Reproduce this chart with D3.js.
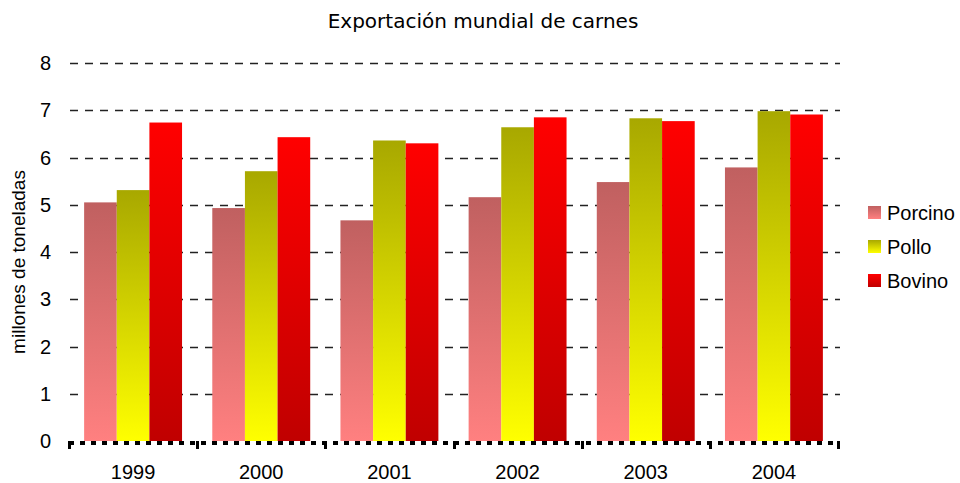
<!DOCTYPE html>
<html>
<head>
<meta charset="utf-8">
<script src="https://cdn.jsdelivr.net/npm/d3@7"></script>
<style>
  body { margin: 0; background: #fff; }
  svg { display: block; font-family: "Liberation Sans", Arial, sans-serif; }
</style>
</head>
<body>
<svg id="chart" width="960" height="483"></svg>
<script>
const years = ['1999', '2000', '2001', '2002', '2003', '2004'];
const seriesNames = ['Porcino', 'Pollo', 'Bovino'];
const porcino = [5.05, 4.93, 4.67, 5.16, 5.48, 5.79];
const pollo = [5.31, 5.71, 6.36, 6.64, 6.83, 6.98];
const bovino = [6.74, 6.43, 6.30, 6.85, 6.77, 6.91];
const yTicks = [0, 1, 2, 3, 4, 5, 6, 7, 8];

// top -> bottom gradient stops
const GRAD = {
  Porcino: ['#c06060', '#ff8080'],
  Pollo: ['#a8a800', '#ffff00'],
  Bovino: ['#ff0000', '#c00000']
};

const values = { Porcino: porcino, Pollo: pollo, Bovino: bovino };

const svg = d3.select('#chart');
const plotLeft = 69, plotRight = 838, plotTop = 63, plotBottom = 441;

const x = d3.scaleBand().domain(years).range([plotLeft, plotRight]).paddingInner(0.236).paddingOuter(0.118);
const xs = d3.scaleBand().domain(seriesNames).range([0, x.bandwidth()]);
const y = d3.scaleLinear().domain([0, 8]).range([plotBottom, plotTop]);

const defs = svg.append('defs');
seriesNames.forEach((s, i) => {
  const g = defs.append('linearGradient').attr('id', 'g' + i).attr('x1', 0).attr('y1', 0).attr('x2', 0).attr('y2', 1);
  g.append('stop').attr('offset', '0%').attr('stop-color', GRAD[s][0]);
  g.append('stop').attr('offset', '100%').attr('stop-color', GRAD[s][1]);
});

// gridlines
svg.append('g').selectAll('line').data(yTicks.filter(d => d > 0)).enter().append('line')
  .attr('x1', plotLeft + 1).attr('x2', plotRight + 2)
  .attr('y1', d => Math.round(y(d)) + 0.5).attr('y2', d => Math.round(y(d)) + 0.5)
  .attr('stroke', '#222').attr('stroke-width', 1.3).attr('stroke-dasharray', '8,7');

// y labels
svg.append('g').selectAll('text').data(yTicks).enter().append('text')
  .attr('x', 51).attr('y', d => y(d)).attr('dy', '0.36em').attr('text-anchor', 'end')
  .attr('font-size', 20).attr('fill', '#000').text(d => d);

// bars
const groups = svg.append('g').selectAll('g').data(years).enter().append('g')
  .attr('transform', d => `translate(${x(d)},0)`);
groups.selectAll('rect').data((yr, yi) => seriesNames.map((s, si) => ({ s, si, v: values[s][yi] })))
  .enter().append('rect')
  .attr('x', d => xs(d.s)).attr('width', xs.bandwidth())
  .attr('y', d => y(d.v)).attr('height', d => y(0) - y(d.v))
  .attr('fill', d => `url(#g${d.si})`);

// bottom axis: thick dashed line with boundary ticks
const axis = svg.append('g');
axis.append('line').attr('x1', plotLeft).attr('x2', plotRight).attr('y1', plotBottom + 2).attr('y2', plotBottom + 2)
  .attr('stroke', '#000').attr('stroke-width', 4).attr('stroke-dasharray', '5,6');
const bounds = years.map(d => x(d) - x.step() * x.paddingInner() / 2).concat([plotRight]);
axis.selectAll('line.tick').data(bounds).enter().append('line').attr('class', 'tick')
  .attr('x1', d => Math.round(d) + 0.5).attr('x2', d => Math.round(d) + 0.5)
  .attr('y1', plotBottom).attr('y2', plotBottom + 8)
  .attr('stroke', '#000').attr('stroke-width', 3);
axis.selectAll('text').data(years).enter().append('text')
  .attr('x', d => x(d) + x.bandwidth() / 2).attr('y', 479).attr('text-anchor', 'middle')
  .attr('font-size', 20).attr('fill', '#000').text(d => d);

// y title
svg.append('text').attr('transform', 'translate(25,262) rotate(-90)').attr('text-anchor', 'middle')
  .attr('font-size', 19).attr('fill', '#000').text('millones de toneladas');

// title
svg.append('text').attr('x', 483).attr('y', 28).attr('text-anchor', 'middle')
  .attr('font-family', '"DejaVu Sans", sans-serif').attr('font-size', 20).attr('fill', '#000')
  .text('Exportación mundial de carnes');

// legend
const legend = svg.append('g').attr('transform', 'translate(868,206)');
const li = legend.selectAll('g').data(seriesNames).enter().append('g')
  .attr('transform', (d, i) => `translate(0,${i * 34})`);
li.append('rect').attr('width', 13).attr('height', 13).attr('fill', (d, i) => `url(#g${i})`);
li.append('text').attr('x', 19).attr('y', 6.5).attr('dy', '0.36em').attr('font-size', 20).attr('fill', '#000').text(d => d);
</script>
</body>
</html>
